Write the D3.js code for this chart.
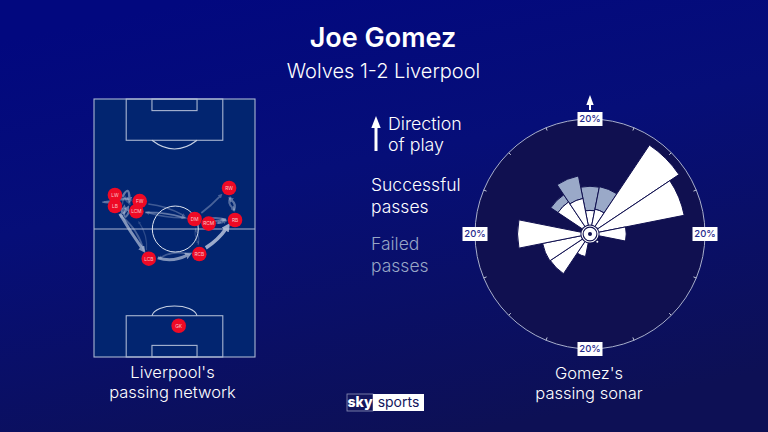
<!DOCTYPE html>
<html><head><meta charset="utf-8">
<script src="https://cdn.jsdelivr.net/npm/d3@7"></script>
<style>html,body{margin:0;padding:0;background:#05107a}svg{display:block}text{font-family:Inter,"Open Sans",sans-serif}</style>
</head><body><svg id="c" width="768" height="432"></svg>
<script>
const title = "Joe Gomez";
const subtitle = "Wolves 1-2 Liverpool";
// pitch-percent positions
const playerNames = ["LW","LB","FW","LCM","DM","RCM","RB","RW","LCB","RCB","GK"];
const playerX = [13,13,28.4,26.3,62.5,71.2,87.6,83.9,34,65.4,52.6];
const playerY = [37.2,41.5,39.6,43.5,46.5,48.3,46.9,34.5,61.9,60.1,87.9];
const linkFrom = ["LB","LCB","LCB","RCB","RCB","RB","DM","DM","RCM","RB","RW","RB","DM","LCM","LW","LB","FW","LB","LW","LCM","LB","RCB","DM","LCB","FW","LCM"];
const linkTo   = ["LCB","LB","RCB","LCB","RB","DM","RB","RW","RB","RW","RB","RCM","LCM","DM","FW","LCM","LW","LW","LB","LB","FW","DM","RCB","LCM","DM","RCM"];
const linkW    = [3,1.8,3,1.6,3.6,2,2,1.8,1.8,2.2,2,1.6,1.6,1.8,2.4,2.4,1.4,2.2,2.2,2.2,1.4,1.2,1.2,1.2,1.6,1.2];
const linkBend = [1,7,6,7,3,3,3,1,2,5,5,3,-3,-3,-14,10,-8,-24,-28,-16,-12,3,3,5,-4,-5];
// sonar
const sectorCentre = [0,22.5,45,67.5,90,202.5,225,247.5,270,315,337.5];
const successPct   = [4.1,4.4,18.6,16.7,6.3,4,8.3,8.4,12.6,6.7,6.3];
const failedPct    = [4.2,4,0,0,0,0,0,0,0,1.5,4];
const ringLabels = ["20%","20%","20%","20%"];
const ringAngles = [0,90,180,270];
const tickAngles = d3.range(0,360,22.5);
const legendPlay = ["Direction","of play"];
const legendOk = ["Successful","passes"];
const legendFail = ["Failed","passes"];
const capLeft = ["Liverpool's","passing network"];
const capRight = ["Gomez's","passing sonar"];

const svg = d3.select("#c");
const defs = svg.append("defs");
const g = defs.append("linearGradient").attr("id","bg").attr("x1",0.25).attr("y1",0).attr("x2",0.62).attr("y2",1);
[[0,"#02087f"],[0.4,"#060e78"],[1,"#0d1055"]].forEach(s=>g.append("stop").attr("offset",s[0]).attr("stop-color",s[1]));
svg.append("rect").attr("width",768).attr("height",432).attr("fill","url(#bg)");

function multi(lines,x,y0,lh,size,fill,anchor="start",weight=400){
  svg.append("g").selectAll("text").data(lines).join("text").attr("x",x).attr("y",(d,i)=>y0+i*lh)
   .attr("font-size",size).attr("fill",fill).attr("text-anchor",anchor).attr("font-weight",weight).text(d=>d);
}
multi([title],383,47,0,27,"#fff","middle",600);
multi([subtitle],383.5,78,0,20,"#fff","middle",300);

// pitch
const px = d3.scaleLinear([0,100],[94,255]);
const py = d3.scaleLinear([0,100],[99,357]);
const line = "#a9b6d2";
const p = svg.append("g").attr("fill","none").attr("stroke",line).attr("stroke-width",1.1);
p.append("rect").attr("x",px(0)).attr("y",py(0)).attr("width",px(100)-px(0)).attr("height",py(100)-py(0)).attr("fill","#022570");
const boxes=[[20,80,0,16],[36,64,0,4.5],[20,80,84,100],[36,64,95.5,100]];
p.selectAll(".b").data(boxes).join("rect").attr("class","b").attr("x",d=>px(d[0])).attr("width",d=>px(d[1])-px(d[0])).attr("y",d=>py(d[2])).attr("height",d=>py(d[3])-py(d[2]));
p.append("line").attr("x1",px(0)).attr("x2",px(100)).attr("y1",py(50.4)).attr("y2",py(50.4));
svg.append("circle").attr("cx",px(50.5)).attr("cy",py(50.4)).attr("r",23).attr("fill","none").attr("stroke","#dfe5f0").attr("stroke-width",1);
p.append("path").attr("d",`M${px(36)},${py(16)} Q${px(50)},${py(16)+17.5} ${px(64)},${py(16)}`).attr("stroke","#c8d2e4");
p.append("path").attr("d",`M${px(36)},${py(84)} C${px(38)},${py(84)-13} ${px(62)},${py(84)-13} ${px(64)},${py(84)}`).attr("stroke","#c8d2e4");

// links
const pos = Object.fromEntries(playerNames.map((n,i)=>[n,[px(playerX[i]),py(playerY[i])]]));
const wOp = d3.scaleLinear([1.2,3.6],[0.22,0.8]);
defs.append("marker").attr("id","ah").attr("viewBox","0 0 4 4").attr("refX",1).attr("refY",2).attr("markerWidth",2.4).attr("markerHeight",2.4).attr("orient","auto")
  .append("path").attr("d","M0,0L4,2L0,4Z").attr("fill","#c3cde2");
const lk = svg.append("g").attr("fill","none");
linkFrom.forEach((f,i)=>{
  const a=pos[f],b=pos[linkTo[i]];
  const dx=b[0]-a[0],dy=b[1]-a[1],L=Math.hypot(dx,dy)||1,ux=dx/L,uy=dy/L;
  const pad=Math.min(9,L*0.3);
  const s=[a[0]+ux*pad,a[1]+uy*pad],e=[b[0]-ux*(pad+3),b[1]-uy*(pad+3)];
  const m=[(s[0]+e[0])/2-uy*linkBend[i],(s[1]+e[1])/2+ux*linkBend[i]];
  const pth=d3.path(); pth.moveTo(s[0],s[1]); pth.quadraticCurveTo(m[0],m[1],e[0],e[1]);
  lk.append("path").attr("d",pth.toString()).attr("stroke","#c3cde2")
    .attr("stroke-width",linkW[i]).attr("opacity",wOp(linkW[i])).attr("marker-end","url(#ah)");
});
// nodes
const n = svg.append("g").selectAll("g").data(playerNames).join("g").attr("transform",(d,i)=>`translate(${px(playerX[i])},${py(playerY[i])})`);
n.append("circle").attr("r",7.3).attr("fill","#ee0a25");
n.append("text").attr("text-anchor","middle").attr("y",1.8).attr("font-size",4.8).attr("fill","#f8c8cc").text(d=>d);

// legend
function arrow(x,y1,y2,hw,hh,sw){
  svg.append("line").attr("x1",x).attr("x2",x).attr("y1",y1).attr("y2",y2+hh-1).attr("stroke","#fff").attr("stroke-width",sw);
  svg.append("path").attr("d",`M${x},${y2}L${x+hw},${y2+hh}L${x-hw},${y2+hh}Z`).attr("fill","#fff");
}
arrow(376,151,116,4.7,12,3);
multi(legendPlay,388,129.5,21.5,17.8,"#fff","start",300);
multi(legendOk,371,191,22,17.5,"#fff","start",300);
multi(legendFail,371,250,22,17.5,"#98a6c6","start",300);

// sonar
const cx=590, cy=234, R=115;
const r = d3.scaleLinear([0,20],[0,R]);
const so = svg.append("g").attr("transform",`translate(${cx},${cy})`);
so.append("circle").attr("r",R).attr("fill","#101050").attr("stroke","#a7aecb").attr("stroke-width",1);
const rad=d=>d*Math.PI/180;
so.selectAll(".t").data(tickAngles).join("line").attr("class","t")
  .attr("x1",d=>Math.sin(rad(d))*(R-3)).attr("y1",d=>-Math.cos(rad(d))*(R-3))
  .attr("x2",d=>Math.sin(rad(d))*R).attr("y2",d=>-Math.cos(rad(d))*R).attr("stroke","#c5cadc").attr("stroke-width",1);
const arc=d3.arc();
const half=rad(11.25);
const sectors=so.append("g").attr("stroke","#101050").attr("stroke-width",1);
sectors.selectAll(".f").data(sectorCentre.map((c,i)=>({c,i})).filter(d=>failedPct[d.i]>0)).join("path").attr("class","f").attr("fill","#9aa9c8")
  .attr("d",d=>arc({innerRadius:r(successPct[d.i]),outerRadius:r(successPct[d.i]+failedPct[d.i]),startAngle:rad(d.c)-half,endAngle:rad(d.c)+half}));
sectors.selectAll(".s").data(sectorCentre.map((c,i)=>({c,i}))).join("path").attr("class","s").attr("fill","#fff")
  .attr("d",d=>arc({innerRadius:0,outerRadius:r(successPct[d.i]),startAngle:rad(d.c)-half,endAngle:rad(d.c)+half}));
so.append("circle").attr("r",9.6).attr("fill","#101050");
so.append("circle").attr("r",8.6).attr("fill","#fff");
so.append("circle").attr("r",6.9).attr("fill","#fff").attr("stroke","#101050").attr("stroke-width",1.1);
so.append("circle").attr("r",2).attr("fill","#101050");
so.append("circle").attr("cx",7.3).attr("cy",7.7).attr("r",1).attr("fill","#fff");
// ring labels
const lab=so.selectAll(".l").data(ringLabels).join("g").attr("class","l").attr("transform",(d,i)=>`translate(${Math.sin(rad(ringAngles[i]))*R},${-Math.cos(rad(ringAngles[i]))*R})`);
lab.append("rect").attr("x",-12.5).attr("y",-7).attr("width",25).attr("height",14).attr("fill","#fff");
lab.append("text").attr("text-anchor","middle").attr("y",3.4).attr("font-size",9.5).attr("font-weight",500).attr("fill","#1f2a8c").text(d=>d);
arrow(590,110,95,3.7,10,2);

// captions
multi(capLeft,172.5,378,20,16.5,"#fff","middle",300);
multi(capRight,589,379,20,16.5,"#fff","middle",300);

// logo
const logoWords=["sky","sports"];
svg.append("rect").attr("x",347).attr("y",394).attr("width",26).attr("height",17).attr("fill","#13155c").attr("stroke","#8d93b8").attr("stroke-width",.8);
svg.append("rect").attr("x",373).attr("y",394).attr("width",51).attr("height",17).attr("fill","#fff");
svg.append("text").attr("x",360).attr("y",407).attr("text-anchor","middle").attr("font-size",14).attr("font-weight",800).attr("fill","#fff").text(logoWords[0]);
svg.append("text").attr("x",398.5).attr("y",407).attr("text-anchor","middle").attr("font-size",14).attr("font-weight",400).attr("fill","#13155c").text(logoWords[1]);
</script></body></html>
